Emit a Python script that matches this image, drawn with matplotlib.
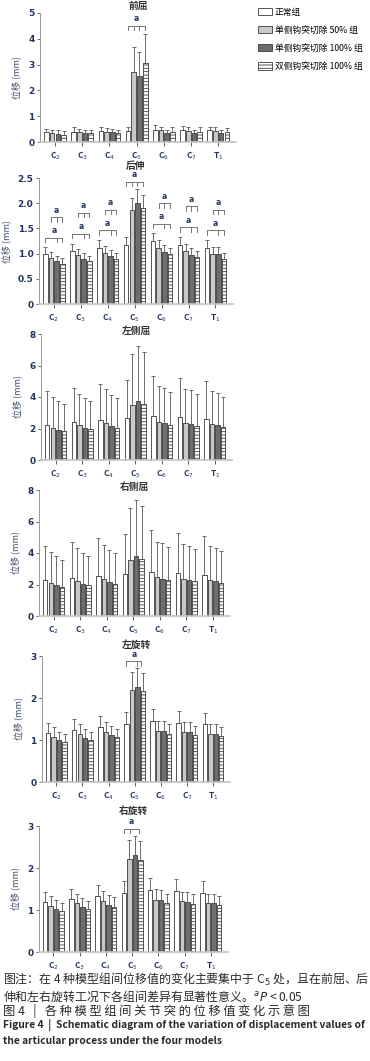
import matplotlib
matplotlib.use("Agg")
import matplotlib.pyplot as plt
from matplotlib.patches import Patch

plt.rcParams['font.family'] = ['Noto Sans CJK SC', 'DejaVu Sans']
plt.rcParams['hatch.linewidth'] = 0.6
plt.rcParams['mathtext.fontset'] = 'dejavusans'

levels = ['C$_2$', 'C$_3$', 'C$_4$', 'C$_5$', 'C$_6$', 'C$_7$', 'T$_1$']
groups = ['正常组', '单侧钩突切除 50% 组', '单侧钩突切除 100% 组', '双侧钩突切除 100% 组']

# rows = levels, cols = groups
flex_mean = [[0.38, 0.33, 0.32, 0.28], [0.40, 0.37, 0.34, 0.33], [0.42, 0.38, 0.37, 0.35],
             [0.44, 2.70, 2.55, 3.08], [0.48, 0.45, 0.36, 0.40], [0.45, 0.43, 0.34, 0.40],
             [0.45, 0.42, 0.33, 0.40]]
flex_sd = [[0.14, 0.15, 0.13, 0.14], [0.17, 0.13, 0.14, 0.12], [0.18, 0.16, 0.13, 0.13],
           [0.16, 0.97, 0.93, 1.12], [0.17, 0.15, 0.12, 0.17], [0.17, 0.17, 0.14, 0.17],
           [0.15, 0.16, 0.12, 0.16]]

ext_mean = [[1.00, 0.92, 0.85, 0.80], [1.06, 0.97, 0.90, 0.85], [1.11, 1.02, 0.95, 0.90],
            [1.18, 1.86, 2.01, 1.91], [1.25, 1.12, 1.04, 0.99], [1.18, 1.06, 0.98, 0.94],
            [1.12, 1.00, 1.00, 0.90]]
ext_sd = [[0.13, 0.12, 0.11, 0.12], [0.14, 0.13, 0.12, 0.11], [0.15, 0.13, 0.13, 0.12],
          [0.15, 0.24, 0.28, 0.25], [0.15, 0.15, 0.14, 0.13], [0.15, 0.14, 0.14, 0.12],
          [0.15, 0.14, 0.14, 0.12]]

lbend_mean = [[2.20, 2.05, 1.92, 1.82], [2.40, 2.20, 2.02, 1.95], [2.52, 2.32, 2.15, 2.03],
              [2.65, 3.52, 3.75, 3.58], [2.78, 2.42, 2.35, 2.25], [2.70, 2.35, 2.28, 2.18],
              [2.60, 2.27, 2.20, 2.10]]
lbend_sd = [[2.15, 1.98, 1.81, 1.73], [2.20, 2.02, 1.90, 1.78], [2.33, 2.16, 2.00, 1.89],
            [2.45, 3.23, 3.50, 3.27], [2.57, 2.26, 2.20, 2.08], [2.48, 2.15, 2.14, 2.00],
            [2.40, 2.08, 2.08, 1.93]]

rbend_mean = [[2.30, 2.10, 1.95, 1.85], [2.42, 2.22, 2.05, 1.95], [2.55, 2.33, 2.18, 2.06],
              [2.68, 3.55, 3.80, 3.60], [2.82, 2.45, 2.38, 2.26], [2.70, 2.37, 2.30, 2.20],
              [2.62, 2.28, 2.23, 2.12]]
rbend_sd = [[2.15, 1.98, 1.83, 1.73], [2.28, 2.08, 1.93, 1.83], [2.40, 2.17, 2.02, 1.94],
            [2.52, 3.30, 3.55, 3.38], [2.66, 2.27, 2.27, 2.12], [2.58, 2.21, 2.15, 2.05],
            [2.48, 2.14, 2.09, 2.00]]

lrot_mean = [[1.17, 1.08, 1.00, 0.95], [1.24, 1.14, 1.05, 1.00], [1.31, 1.20, 1.11, 1.06],
             [1.38, 2.19, 2.26, 2.16], [1.46, 1.22, 1.22, 1.15], [1.41, 1.18, 1.18, 1.12],
             [1.37, 1.14, 1.14, 1.10]]
lrot_sd = [[0.23, 0.22, 0.20, 0.19], [0.26, 0.24, 0.22, 0.20], [0.26, 0.24, 0.22, 0.20],
           [0.29, 0.43, 0.46, 0.44], [0.29, 0.24, 0.24, 0.23], [0.28, 0.24, 0.24, 0.22],
           [0.28, 0.24, 0.24, 0.21]]

rrot_mean = [[1.19, 1.10, 1.02, 0.97], [1.26, 1.16, 1.07, 1.02], [1.33, 1.22, 1.13, 1.08],
             [1.40, 2.22, 2.30, 2.20], [1.48, 1.24, 1.23, 1.16], [1.45, 1.21, 1.20, 1.14],
             [1.40, 1.16, 1.16, 1.11]]
rrot_sd = [[0.25, 0.23, 0.21, 0.19], [0.25, 0.23, 0.21, 0.20], [0.27, 0.24, 0.23, 0.22],
           [0.28, 0.44, 0.47, 0.45], [0.29, 0.25, 0.25, 0.23], [0.28, 0.23, 0.24, 0.23],
           [0.28, 0.23, 0.23, 0.22]]

# significance brackets: (level, bar indices with ticks, height)
flex_sig = [(3, [0, 1, 2, 3], 4.5)]
ext_sig = [(0, [0, 2, 3], 1.31), (0, [1, 2, 3], 1.72),
           (1, [0, 2, 3], 1.39), (1, [1, 2, 3], 1.81),
           (2, [0, 2, 3], 1.46), (2, [1, 2, 3], 1.87),
           (3, [0, 1, 2, 3], 2.43),
           (4, [0, 2, 3], 1.59), (4, [1, 2, 3], 2.00),
           (5, [0, 2, 3], 1.52), (5, [1, 2, 3], 1.94),
           (6, [0, 2, 3], 1.46), (6, [1, 2, 3], 1.87)]
lrot_sig = [(3, [0, 2, 2.7], 2.87)]
rrot_sig = [(3, [0, 1.1, 2.8], 2.94)]

panels = [
    # title, mean, sd, ymax, yticks, ticklabels, brackets, (left, right, top, bottom) px, title y px
    ('前屈', flex_mean, flex_sd, 5, [0, 1, 2, 3, 4, 5], None, flex_sig, (40, 236, 13, 142), 6),
    ('后伸', ext_mean, ext_sd, 2.5, [0, 0.5, 1, 1.5, 2, 2.5], ['0', '0.5', '1.0', '1.5', '2.0', '2.5'],
     ext_sig, (39, 233, 178, 304), 166),
    ('左侧屈', lbend_mean, lbend_sd, 8, [0, 2, 4, 6, 8], None, [], (41, 232, 334, 460), 331),
    ('右侧屈', rbend_mean, rbend_sd, 8, [0, 2, 4, 6, 8], None, [], (39, 230, 490, 616), 487),
    ('左旋转', lrot_mean, lrot_sd, 3, [0, 1, 2, 3], None, lrot_sig, (42, 230, 656, 782), 645),
    ('右旋转', rrot_mean, rrot_sd, 3, [0, 1, 2, 3], None, rrot_sig, (39, 228, 826, 952), 811),
]

W, H = 370, 1061
fig = plt.figure(figsize=(W / 100, H / 100), dpi=100)

faces = ['white', '#c8c8c8', '#6e6e6e', 'white']
hatches = [None, None, None, '-----']
edge = '#3a3a3a'
navy = '#24365e'
step, width = 0.21, 0.17

for title, mean, sd, ymax, yt, ytl, sig, box, ty in panels:
    l, r, t, b = box
    ax = fig.add_axes([l / W, 1 - b / H, (r - l) / W, (b - t) / H])
    for j in range(4):
        xs = [i + (j - 1.5) * step for i in range(len(levels))]
        vals = [row[j] for row in mean]
        errs = [[0] * len(levels), [row[j] for row in sd]]
        ax.bar(xs, vals, width=width, color=faces[j], edgecolor=edge, linewidth=0.6,
               hatch=hatches[j], zorder=2)
        ax.errorbar(xs, vals, yerr=errs, fmt='none', ecolor='#555555', elinewidth=0.6,
                    capsize=1.2, capthick=0.6, zorder=3)
    d = ymax * 0.035
    for lev, ticks, yb in sig:
        px = [lev + (k - 1.5) * step for k in ticks]
        ax.plot([px[0], px[-1]], [yb, yb], color='#777777', lw=0.7, zorder=4)
        for p in px:
            ax.plot([p, p], [yb, yb - d], color='#777777', lw=0.7, zorder=4)
        ax.text((px[0] + px[-1]) / 2, yb + d * 0.6, 'a', ha='center', va='bottom',
                fontsize=5.5, fontweight='bold', color=navy, family='DejaVu Sans')
    ax.set_xlim(-0.55, 6.65)
    ax.set_ylim(0, ymax)
    ax.set_yticks(yt)
    if ytl:
        ax.set_yticklabels(ytl)
    ax.set_xticks(range(len(levels)))
    ax.set_xticklabels(levels, fontsize=6, fontweight='bold', color=navy)
    ax.tick_params(axis='y', labelsize=6.5, colors='#555555', length=2, width=0.6, pad=2)
    ax.tick_params(axis='x', length=3, width=0.6, colors='#444444', pad=3)
    for lab in ax.get_yticklabels():
        lab.set_color(navy)
        lab.set_fontweight('bold')
        lab.set_family('DejaVu Sans')
    for lab in ax.get_xticklabels():
        lab.set_color(navy)
    ax.spines['top'].set_visible(False)
    ax.spines['right'].set_visible(False)
    ax.spines['left'].set_color('#999999')
    ax.spines['left'].set_linewidth(0.7)
    ax.spines['bottom'].set_color('#c4c4c4')
    ax.spines['bottom'].set_linewidth(1.2)
    ax.set_ylabel('位移 (mm)', fontsize=6.5, color='#3a4a6a', labelpad=4)
    fig.text((l + r) / 2 / W, 1 - ty / H, title, ha='center', va='center', fontsize=7,
             color='#333333', fontweight='bold')

handles = [Patch(facecolor=faces[j], edgecolor=edge, linewidth=0.6, hatch=hatches[j])
           for j in range(4)]
fig.legend(handles, groups, loc='upper left', bbox_to_anchor=(254 / W, 1 - 4 / H),
           frameon=False, fontsize=6.3, handlelength=1.6, handleheight=0.9,
           labelspacing=1.05, handletextpad=0.35, borderaxespad=0)

# caption
fig_title = '图 4   |   ' + '\u2009'.join('各种模型组间关节突的位移值变化示意图')
cap = [
    (979, '图注：在 4 种模型组间位移值的变化主要集中于 C$_5$ 处，且在前屈、后', 'normal', 8.6),
    (996, '伸和左右旋转工况下各组间差异有显著性意义。$^a$$P$ < 0.05', 'normal', 8.6),
    (1011, fig_title, 'medium', 8.9),
    (1025, 'Figure 4  |  Schematic diagram of the variation of displacement values of', 'bold', 7.4),
    (1041, 'the articular process under the four models', 'bold', 7.4),
]
for y, s, w, fs in cap:
    fig.text(3 / W, 1 - y / H, s, ha='left', va='center', fontsize=fs, color='#2a2a2a',
             fontweight=w)

fig.savefig('out.png', dpi=100)
